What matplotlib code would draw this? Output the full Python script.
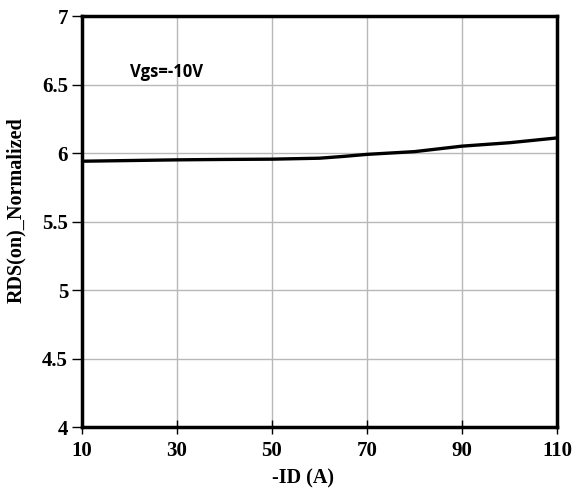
import numpy as np
import matplotlib.pyplot as plt

# Данные
id_a = np.array([10, 20, 30, 40, 50, 60, 65, 70, 80, 90, 100, 110])
rds_norm = np.array([5.94, 5.945, 5.95, 5.953, 5.955, 5.962, 5.975, 5.99, 6.01, 6.05, 6.075, 6.11])

x_ticks = [10, 30, 50, 70, 90, 110]
y_ticks = [4, 4.5, 5, 5.5, 6, 6.5, 7]
y_tick_labels = ['4', '4.5', '5', '5.5', '6', '6.5', '7']

serif = ['Liberation Serif', 'DejaVu Serif']

fig = plt.figure(figsize=(5.79, 4.90), dpi=100)
ax = fig.add_axes([82 / 579, 1 - 427 / 490, 475 / 579, 411 / 490])

ax.plot(id_a, rds_norm, color='black', linewidth=2.4)

ax.set_xlim(10, 110)
ax.set_ylim(4, 7)
ax.set_xticks(x_ticks)
ax.set_yticks(y_ticks)
ax.set_xticklabels([str(v) for v in x_ticks], family=serif, fontweight='bold', fontsize=15)
ax.set_yticklabels(y_tick_labels, family=serif, fontweight='bold', fontsize=15)
ax.tick_params(axis='x', direction='inout', length=10, width=1, pad=5)
ax.tick_params(axis='y', direction='out', length=7, width=1, pad=3)

ax.grid(True, color='#b8b8b8', linewidth=1)
for s in ax.spines.values():
    s.set_linewidth(2.5)

ax.set_xlabel('-ID (A)', family=serif, fontweight='bold', fontsize=14.5)
ax.set_ylabel('RDS(on)_Normalized', family=serif, fontweight='bold', fontsize=14.5)
ax.xaxis.set_label_coords(0.465, -0.1)
ax.yaxis.set_label_coords(-0.118, 0.528)

ax.text(20.2, 6.59, 'Vgs=-10V', fontsize=12, fontweight='bold',
        family=['Open Sans', 'DejaVu Sans'], va='center', ha='left')

fig.savefig('out.png', dpi=100)
